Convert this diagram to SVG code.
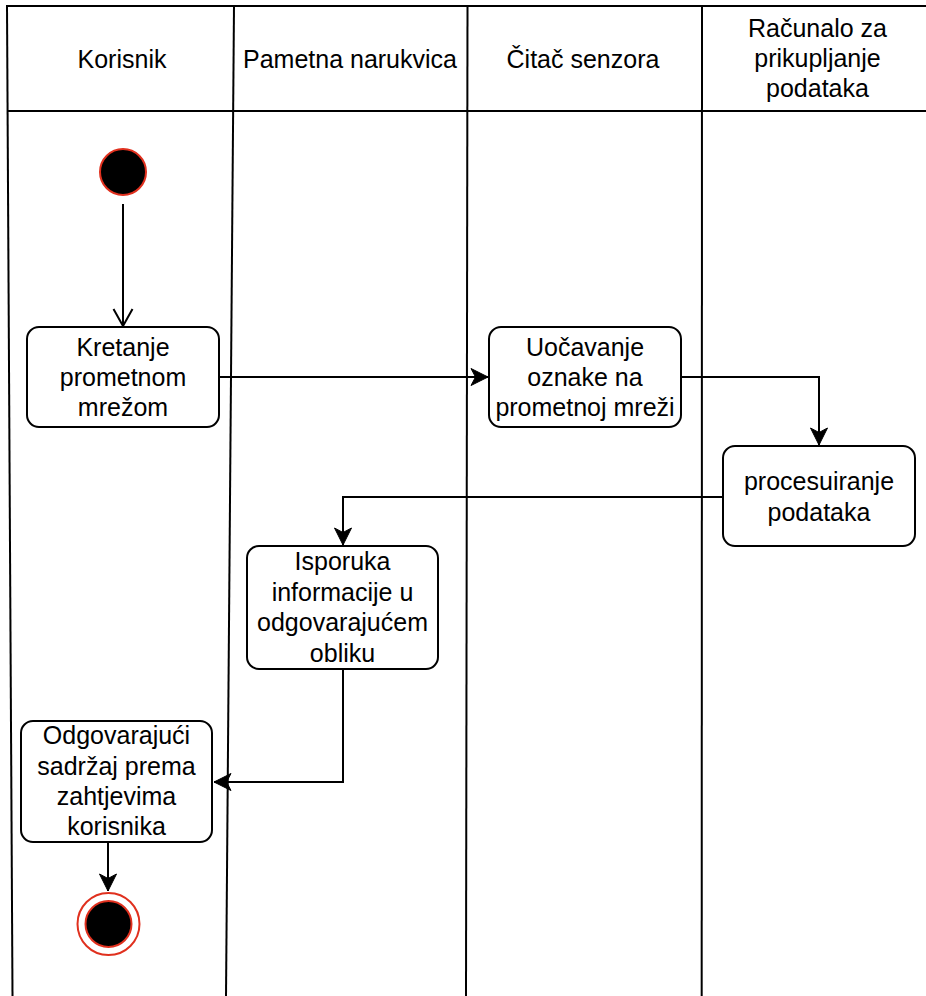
<svg xmlns="http://www.w3.org/2000/svg" width="926" height="996" viewBox="0 0 926 996">
<style>
.lane{stroke:#000;stroke-width:2;fill:none}
.box{fill:#fff;stroke:#000;stroke-width:2}
.t{font-family:"Liberation Sans",Arial,sans-serif;font-size:25px;fill:#000;text-anchor:middle}
.edge{stroke:#000;stroke-width:2;fill:none}
</style>
<defs>
<marker id="arr" markerUnits="userSpaceOnUse" markerWidth="20" markerHeight="20" viewBox="-18 -10 20 20" refX="0" refY="0" orient="auto">
<path d="M0,0 L-17,-8.5 L-12.5,0 L-17,8.5 Z" fill="#000" stroke="#000" stroke-width="1"/>
</marker>
<marker id="open" markerUnits="userSpaceOnUse" markerWidth="22" markerHeight="24" viewBox="-20 -12 22 24" refX="0" refY="0" orient="auto">
<path d="M-17,-9.5 L0,0 L-17,9.5" fill="none" stroke="#000" stroke-width="2"/>
</marker>
</defs>
<rect width="926" height="996" fill="#fff"/>
<g id="pool">
<line class="lane" x1="6" y1="6" x2="926" y2="6"/>
<line class="lane" x1="7" y1="111" x2="926" y2="111"/>
<line class="lane" x1="7" y1="6" x2="12.5" y2="996"/>
<line class="lane" x1="234" y1="6" x2="226" y2="996"/>
<line class="lane" x1="467.5" y1="6" x2="466" y2="996"/>
<line class="lane" x1="702" y1="6" x2="701.7" y2="996"/>
</g>
<g id="lane-headers">
<text class="t" x="122" y="68">Korisnik</text>
<text class="t" x="350" y="68">Pametna narukvica</text>
<text class="t" x="583" y="68">Čitač senzora</text>
<text class="t" x="817.5" y="37">Računalo za</text>
<text class="t" x="817.5" y="67">prikupljanje</text>
<text class="t" x="817.5" y="97">podataka</text>
</g>
<g id="connectors">
<line class="edge" x1="123" y1="204" x2="123" y2="326" marker-end="url(#open)"/>
<line class="edge" x1="219" y1="377" x2="488" y2="377" marker-end="url(#arr)"/>
<polyline class="edge" points="681,377 819,377 819,445" marker-end="url(#arr)"/>
<polyline class="edge" points="723,497 343,497 343,545" marker-end="url(#arr)"/>
<polyline class="edge" points="343,669 343,782 214,782" marker-end="url(#arr)"/>
<line class="edge" x1="108" y1="842" x2="108" y2="891" marker-end="url(#arr)"/>
</g>
<g id="start">
<circle cx="123" cy="172" r="23" fill="#000" stroke="#e0301e" stroke-width="2"/>
</g>
<g id="n1">
<rect class="box" x="27" y="327" width="192" height="100" rx="12"/>
<text class="t" x="123" y="356">Kretanje</text>
<text class="t" x="123" y="386">prometnom</text>
<text class="t" x="123" y="416">mrežom</text>
</g>
<g id="n2">
<rect class="box" x="489" y="327" width="192" height="100" rx="12"/>
<text class="t" x="585" y="356">Uočavanje</text>
<text class="t" x="585" y="386">oznake na</text>
<text class="t" x="585" y="416">prometnoj mreži</text>
</g>
<g id="n3">
<rect class="box" x="723" y="446" width="192" height="100" rx="12"/>
<text class="t" x="819" y="490">procesuiranje</text>
<text class="t" x="819" y="521">podataka</text>
</g>
<g id="n4">
<rect class="box" x="247" y="546" width="191" height="123" rx="12"/>
<text class="t" x="342.5" y="570">Isporuka</text>
<text class="t" x="342.5" y="601">informacije u</text>
<text class="t" x="342.5" y="631">odgovarajućem</text>
<text class="t" x="342.5" y="662">obliku</text>
</g>
<g id="n5">
<rect class="box" x="21" y="721" width="191" height="121" rx="12"/>
<text class="t" x="116.5" y="744">Odgovarajući</text>
<text class="t" x="116.5" y="775">sadržaj prema</text>
<text class="t" x="116.5" y="805">zahtjevima</text>
<text class="t" x="116.5" y="835">korisnika</text>
</g>
<g id="end">
<circle cx="108.5" cy="924" r="31" fill="#fff" stroke="#e0301e" stroke-width="2"/>
<circle cx="108.5" cy="924" r="23" fill="#000" stroke="#e0301e" stroke-width="2"/>
</g>
</svg>
